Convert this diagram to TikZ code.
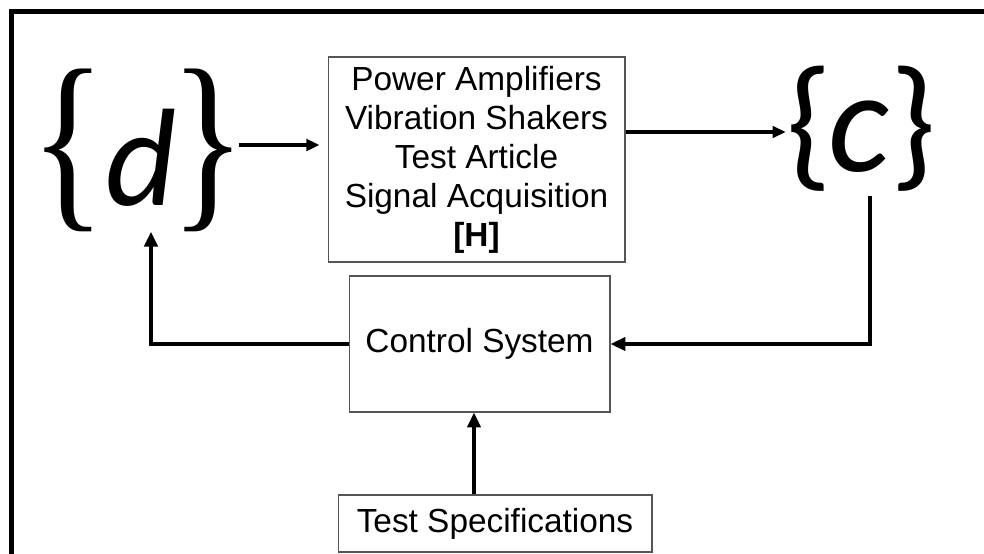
\documentclass[tikz,border=0pt]{standalone}
\usepackage{fontspec}
\setmainfont{Liberation Sans}
\newfontfamily\bracefont{Liberation Serif}
\newfontfamily\vecfont{Carlito}
\usetikzlibrary{arrows.meta, positioning}
\definecolor{boxgray}{RGB}{85, 85, 85}

\newcommand{\thinbrace}[1]{\scalebox{0.8}[1]{\bracefont\fontsize{112}{112}\selectfont#1}}

\begin{document}
\begin{tikzpicture}[
  x=0.02cm, y=-0.02cm,
  box/.style={rectangle, draw=boxgray, line width=0.6pt, inner sep=0pt,
              align=center, font=\fontsize{19}{22.2}\selectfont},
  vecnode/.style={inner sep=0pt, anchor=base},
  arrow/.style={-{Triangle[length=7.5pt, width=6.5pt]}, line width=1.9pt},
  fbarrow/.style={-{Triangle[length=8.5pt, width=7.5pt]}, line width=2.4pt}
]
\useasboundingbox (0,0) rectangle (984,554);

% frame, cut by the page
\begin{scope}
  \clip (0,0) rectangle (984,554);
  \draw[line width=2.5pt] (11.5,11.5) rectangle (1010,600);
\end{scope}

\node[box, minimum width=5.94cm, minimum height=4.1cm] (plant) at (476.5,159.5)
  {Power Amplifiers\\Vibration Shakers\\Test Article\\Signal Acquisition\\\textbf{[H]}};
\node[box, minimum width=5.22cm, minimum height=2.72cm] (ctrl) at (479.5,344) {Control System};
\node[box, minimum width=6.28cm, minimum height=1.14cm] (spec) at (495,523.5) {Test Specifications};

\node[vecnode] (dvec) at (138,205)
  {\thinbrace{\{}{\vecfont\itshape\fontsize{79}{79}\selectfont d}\kern-4pt\thinbrace{\}}};
\node[vecnode] (cvec) at (861,172)
  {\vecfont\fontsize{83}{83}\selectfont\{\kern-2pt\textit{c}\kern0.5pt\}};

% lanes of the connectors
\coordinate (dlane) at (0,145);
\coordinate (clane) at (0,132);
\coordinate (rlane) at (870,0);
\coordinate (llane) at (151,0);
\coordinate (slane) at (474,0);

\draw[arrow, shorten <=-4pt, shorten >=4.5pt] (dvec.east |- dlane) -- (plant.west |- dlane);
\draw[arrow] (plant.east |- clane) -- (cvec.west |- clane);

% feedback loop
\draw[fbarrow, shorten <=2pt] (cvec.south -| rlane) |- (ctrl.east);
\draw[fbarrow] (ctrl.west) -| (dvec.south -| llane);
\draw[fbarrow] (spec.north -| slane) -- (ctrl.south -| slane);

\end{tikzpicture}
\end{document}
